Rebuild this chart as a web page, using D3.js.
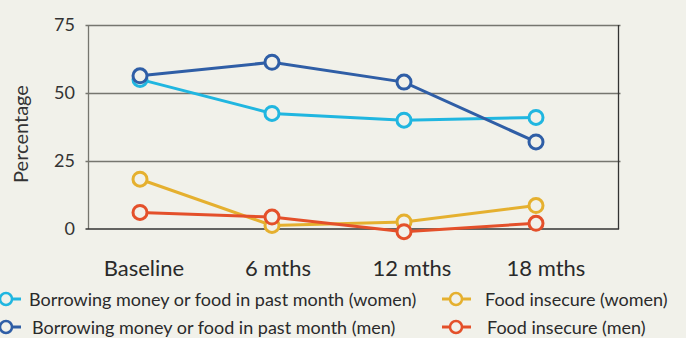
<!doctype html>
<html>
<head>
<script src="https://d3js.org/d3.v7.min.js"></script>
<style>
body { margin: 0; background: #f1f1ea; }
svg { display: block; font-family: Lato, "Noto Sans", sans-serif; font-weight: 400; }
</style>
</head>
<body>
<svg></svg>
<script>
var periods = ["Baseline", "6 mths", "12 mths", "18 mths"];
var borrowWomen = [55, 42.5, 40, 41];
var borrowMen = [56.3, 61.3, 54, 32];
var foodWomen = [18.3, 1.3, 2.6, 8.6];
var foodMen = [6.1, 4.4, -1, 2.1];
var yTicks = [0, 25, 50, 75];

var series = [
	{ name: "Food insecure (women)", values: foodWomen, color: "#e5b02f" },
	{ name: "Food insecure (men)", values: foodMen, color: "#e4502a" },
	{ name: "Borrowing money or food in past month (women)", values: borrowWomen, color: "#20b6e0" },
	{ name: "Borrowing money or food in past month (men)", values: borrowMen, color: "#2f5ea6" }
];

var W = 686, H = 338;
var svg = d3.select("svg").attr("width", W).attr("height", H);

var pLeft = 88.5, pRight = 618.5, pTop = 25, pBottom = 229;
var x = d3.scaleLinear().domain([0, 3]).range([140, 536]);
var xLab = d3.scaleLinear().domain([0, 3]).range([144, 546]);
var y = d3.scaleLinear().domain([0, 75]).range([pBottom, pTop]);

// gridlines
svg.append("g").selectAll("line").data(yTicks.slice(1)).enter().append("line")
	.attr("x1", pLeft - 3).attr("x2", pRight + 2)
	.attr("y1", d => Math.round(y(d)) + 0.5).attr("y2", d => Math.round(y(d)) + 0.5)
	.attr("stroke", "#76766f").attr("stroke-width", 1.3);

// frame
svg.append("line").attr("x1", pLeft).attr("x2", pLeft).attr("y1", pTop).attr("y2", pBottom)
	.attr("stroke", "#76766f").attr("stroke-width", 1.3);
svg.append("line").attr("x1", pRight).attr("x2", pRight).attr("y1", pTop).attr("y2", pBottom)
	.attr("stroke", "#333").attr("stroke-width", 1.3);
svg.append("line").attr("x1", pLeft - 3).attr("x2", pRight + 0.6).attr("y1", pBottom).attr("y2", pBottom)
	.attr("stroke", "#333").attr("stroke-width", 1.5);

// y tick labels
svg.append("g").selectAll("text").data(yTicks).enter().append("text")
	.attr("x", 75).attr("y", d => y(d) + 1)
	.attr("text-anchor", "end").attr("dominant-baseline", "middle")
	.attr("font-size", 18).attr("fill", "#333")
	.text(d => d);

svg.append("text")
	.attr("transform", "translate(28," + 134 + ") rotate(-90)")
	.attr("text-anchor", "middle")
	.attr("font-size", 20).attr("fill", "#333")
	.text("Percentage");

// x labels
svg.append("g").selectAll("text").data(periods).enter().append("text")
	.attr("x", (d, i) => xLab(i)).attr("y", 276)
	.attr("text-anchor", "middle")
	.attr("font-size", 22).attr("fill", "#2a2a2a")
	.text(d => d);

var line = d3.line().x((d, i) => x(i)).y(d => y(d));

series.forEach(s => {
	var g = svg.append("g");
	g.append("path").attr("d", line(s.values))
		.attr("fill", "none").attr("stroke", s.color).attr("stroke-width", 3);
	g.selectAll("circle").data(s.values).enter().append("circle")
		.attr("cx", (d, i) => x(i)).attr("cy", d => y(d)).attr("r", 7)
		.attr("fill", "#f1f1ea").attr("stroke", s.color).attr("stroke-width", 3);
});

// legend
var legend = [
	{ s: series[2], mx: 6, tx: 29, y: 300 },
	{ s: series[3], mx: 6, tx: 32, y: 328 },
	{ s: series[0], mx: 456, tx: 485, y: 300 },
	{ s: series[1], mx: 456, tx: 487, y: 328 }
];
legend.forEach(l => {
	var g = svg.append("g");
	g.append("line").attr("x1", l.mx - 14).attr("x2", l.mx + 15)
		.attr("y1", l.y - 1).attr("y2", l.y - 1)
		.attr("stroke", l.s.color).attr("stroke-width", 3);
	g.append("circle").attr("cx", l.mx).attr("cy", l.y - 1).attr("r", 6)
		.attr("fill", "#f1f1ea").attr("stroke", l.s.color).attr("stroke-width", 2.5);
	g.append("text").attr("x", l.tx).attr("y", l.y + 6)
		.attr("font-size", 18).attr("fill", "#2a2a2a")
		.text(l.s.name);
});
</script>
</body>
</html>
